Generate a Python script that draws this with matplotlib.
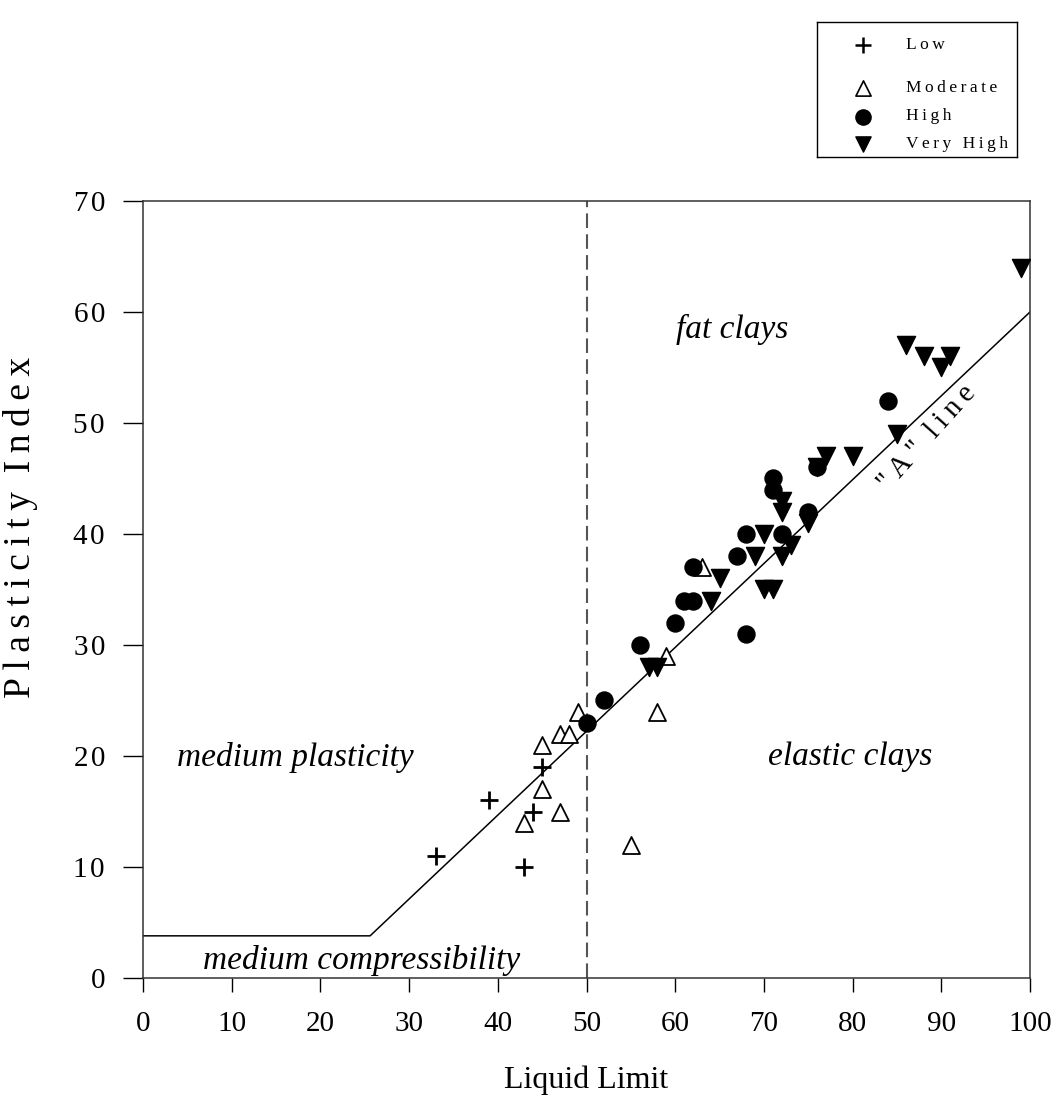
import matplotlib

matplotlib.use("Agg")

import matplotlib.pyplot as plt

plt.rcParams["font.family"] = ["Liberation Serif", "DejaVu Serif"]

# data (liquid limit, plasticity index)
low_ll = [33, 39, 43, 44, 45]
low_pi = [11, 16, 10, 15, 19]

mod_ll = [43, 45, 45, 47, 47, 48, 49, 55, 58, 59, 63]
mod_pi = [14, 17, 21, 15, 22, 22, 24, 12, 24, 29, 37]

high_ll = [50, 52, 56, 60, 61, 62, 62, 67, 68, 68, 71, 71, 72, 75, 76, 84]
high_pi = [23, 25, 30, 32, 34, 34, 37, 38, 31, 40, 44, 45, 40, 42, 46, 52]

vhigh_ll = [57, 58, 64, 65, 69, 70, 70, 71, 72, 72, 72, 73, 75, 76, 77, 80,
            85, 86, 88, 90, 91, 99]
vhigh_pi = [28, 28, 34, 36, 38, 35, 40, 35, 38, 42, 43, 39, 41, 46, 47, 47,
            49, 57, 56, 55, 56, 64]

# "A" line and the LL = 50 divider
a_line_ll = [0, 25.6, 100]
a_line_pi = [3.8, 3.8, 60]
divider_ll = 50

THIN = "\u2009"


def spaced(s):
    return THIN.join(s)


fig = plt.figure(figsize=(10.61, 11.09), dpi=100)
ax = fig.add_axes([0.1348, 0.1181, 0.836, 0.7007])

ax.plot(a_line_ll, a_line_pi, color="black", lw=1.1)
ax.plot([divider_ll, divider_ll], [0, 70], color="#555555", lw=1.5,
        dashes=(7, 3))

ax.scatter(low_ll, low_pi, marker="+", s=170, color="black", linewidths=2.0,
           zorder=3)
ax.scatter(mod_ll, mod_pi, marker="^", s=150, facecolor="white",
           edgecolor="black", linewidths=1.3, zorder=3)
ax.scatter(high_ll, high_pi, marker="o", s=150, color="black", zorder=3)
ax.scatter(vhigh_ll, vhigh_pi, marker="v", s=170, color="black", zorder=3)

ax.set_xlim(0, 100)
ax.set_ylim(0, 70)
ax.set_xticks(range(0, 101, 10))
ax.set_yticks(range(0, 71, 10))
ax.set_yticklabels(["\u200a".join(str(v)) for v in range(0, 71, 10)])
ax.tick_params(direction="out", width=1.0, labelsize=21)
ax.tick_params(axis="x", length=10, pad=14)
ax.tick_params(axis="y", length=14.4, pad=13)
for s in ax.spines.values():
    s.set_linewidth(1.1)
    s.set_color("#333333")

ax.set_xlabel("Liquid Limit", fontsize=23, labelpad=20)
ax.set_ylabel(spaced("Plasticity") + "  " + spaced("Index"), fontsize=27)
ax.yaxis.set_label_coords(-0.118, 0.58)

it = dict(fontsize=24, style="italic", ha="center", va="center")
ax.text(66.4, 58.4, "fat clays", **it)
ax.text(17.2, 19.9, "medium plasticity", **it)
ax.text(79.7, 19.9, "elastic clays", **it)
ax.text(24.6, 1.6, "medium compressibility", **it)
ax.text(88.4, 48.6, spaced('"A"') + "  " + spaced("line"), fontsize=21,
        ha="center", va="center", rotation=48)

# legend drawn in its own framed box
lg = fig.add_axes([817 / 1061, 1 - 157 / 1109, 200 / 1061, 135 / 1109])
lg.set_xlim(0, 1)
lg.set_ylim(0, 1)
lg.set_xticks([])
lg.set_yticks([])
for s in lg.spines.values():
    s.set_linewidth(1.0)
rows = [
    ("Low", "+", dict(color="black", linewidths=1.8), 0.83),
    ("Moderate", "^", dict(facecolor="white", edgecolor="black", linewidths=1.2), 0.51),
    ("High", "o", dict(color="black"), 0.30),
    ("Very High", "v", dict(color="black"), 0.10),
]
for label, mk, kw, yy in rows:
    lg.scatter([0.23], [yy], marker=mk, s=120, **kw)
    lg.text(0.445, yy, spaced(label), fontsize=12.5, va="center", ha="left")

fig.savefig("out.png", dpi=100)
